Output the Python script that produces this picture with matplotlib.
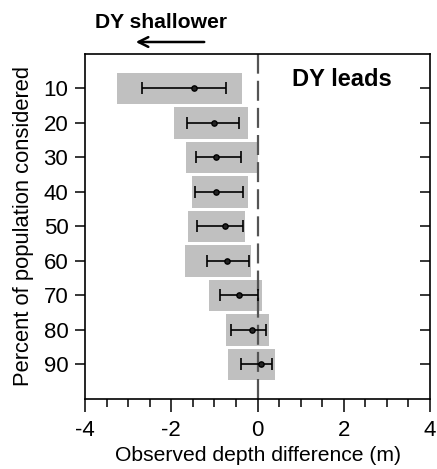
import matplotlib
matplotlib.use("Agg")
import matplotlib.pyplot as plt
from matplotlib.ticker import MultipleLocator

plt.rcParams['font.family'] = ['Liberation Sans', 'DejaVu Sans']
plt.rcParams['axes.unicode_minus'] = False

percent = [10, 20, 30, 40, 50, 60, 70, 80, 90]
bar_left = [-3.25, -1.93, -1.65, -1.52, -1.61, -1.68, -1.13, -0.74, -0.69]
bar_right = [-0.35, -0.21, 0.02, -0.23, -0.28, -0.14, 0.10, 0.26, 0.41]
mean = [-1.48, -1.00, -0.97, -0.97, -0.76, -0.70, -0.44, -0.12, 0.09]
err_low = [-2.67, -1.63, -1.42, -1.44, -1.41, -1.16, -0.86, -0.61, -0.39]
err_high = [-0.72, -0.42, -0.39, -0.33, -0.33, -0.19, 0.02, 0.19, 0.34]

fig = plt.figure(figsize=(4.37, 4.69), dpi=100)
ax = fig.add_axes([0.1945, 0.1493, 0.7895, 0.7356])

widths = [r - l for l, r in zip(bar_left, bar_right)]
ax.barh(percent, widths, left=bar_left, height=9.2, color='#c0c0c0', zorder=1)
ax.axvline(0, color='#555555', lw=1.6, ls=(0, (9, 3.2)), zorder=2)
xerr = [[m - lo for m, lo in zip(mean, err_low)], [hi - m for m, hi in zip(mean, err_high)]]
ax.errorbar(mean, percent, xerr=xerr, fmt='o', color='black', ms=3.8,
            mfc='#222222', mec='black', elinewidth=1.2, capsize=4, capthick=1.2, zorder=3)

ax.set_xlim(-4, 4)
ax.set_ylim(100, 0)
ax.set_xticks([-4, -2, 0, 2, 4])
ax.xaxis.set_minor_locator(MultipleLocator(0.5))
ax.set_yticks(percent)
ax.tick_params(axis='x', which='major', direction='out', length=9, width=1.1, labelsize=16, pad=6)
ax.tick_params(axis='x', which='minor', direction='out', length=5.5, width=1.1)
ax.tick_params(axis='y', which='major', direction='out', length=7, width=1.1, labelsize=16,
               right=True, pad=5)
for t in ax.yaxis.get_major_ticks():
    t.tick2line.set_marker(matplotlib.lines.TICKLEFT)
for s in ax.spines.values():
    s.set_linewidth(1.2)

ax.set_xlabel('Observed depth difference (m)', fontsize=15.2, labelpad=4)
ax.set_ylabel('Percent of population considered', fontsize=15.8, labelpad=7)

ax.text(1.95, 7.5, 'DY leads', fontsize=17, fontweight='bold', ha='center', va='center')
fig.text(95 / 437, 1 - 22 / 469, 'DY shallower', fontsize=15.2, fontweight='bold',
         ha='left', va='center')
fig.patches.append(matplotlib.patches.FancyArrowPatch(
    (207 / 437, 1 - 42 / 469), (133 / 437, 1 - 42 / 469), transform=fig.transFigure,
    arrowstyle='->,head_length=7,head_width=3.5', color='black', lw=1.8,
    mutation_scale=1))

fig.savefig('out.png', dpi=100)
